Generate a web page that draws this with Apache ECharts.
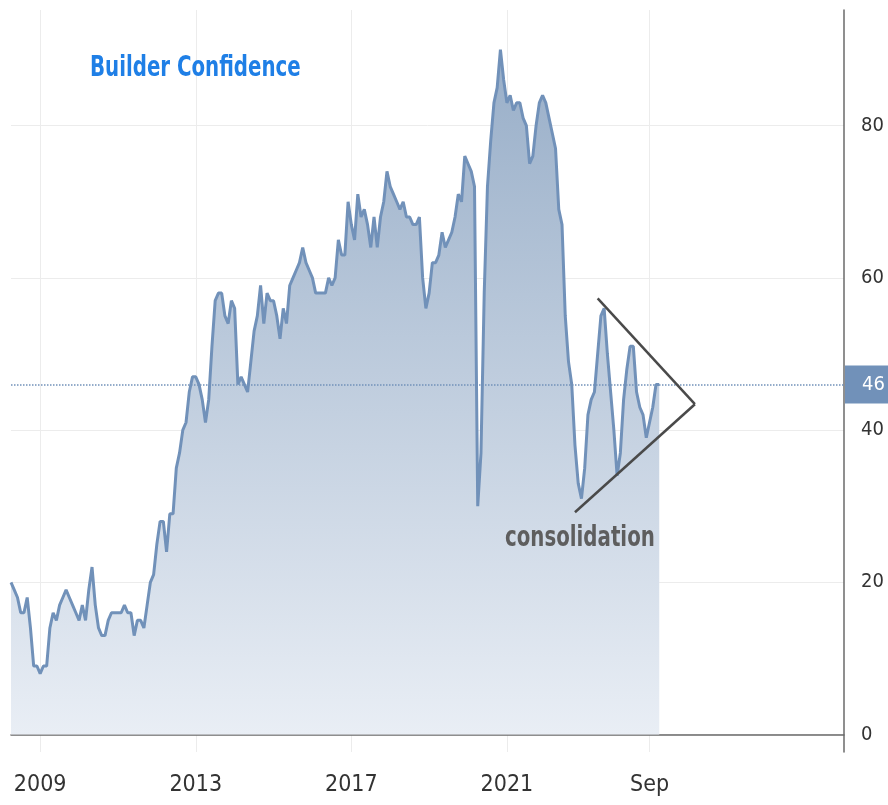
<!DOCTYPE html>
<html>
<head>
<meta charset="utf-8">
<title>Builder Confidence</title>
<script src="https://cdn.jsdelivr.net/npm/echarts@6/dist/echarts.min.js"></script>
<style>
  html, body { margin: 0; padding: 0; background: #fff; }
  #chart-container { width: 888px; height: 805px; }
</style>
</head>
<body>
<div id="chart-container"></div>
<script>
// monthly index, Apr 2008 .. Dec 2024
var confidence = [
  20, 19, 18, 16, 16, 18, 14, 9, 9,
  8, 9, 9, 14, 16, 15, 17, 18, 19, 18, 17, 16,
  15, 17, 15, 19, 22, 17, 14, 13, 13, 15, 16, 16,
  16, 16, 17, 16, 16, 13, 15, 15, 14, 17, 20, 21,
  25, 28, 28, 24, 29, 29, 35, 37, 40, 41, 45, 47,
  47, 46, 44, 41, 44, 51, 57, 58, 58, 55, 54, 57,
  56, 46, 47, 46, 45, 49, 53, 55, 59, 54, 58, 57,
  57, 55, 52, 56, 54, 59, 60, 61, 62, 64, 62, 61,
  60, 58, 58, 58, 58, 60, 59, 60, 65, 63, 63, 70,
  67, 65, 71, 68, 69, 67, 64, 68, 64, 68, 70, 74,
  72, 71, 70, 69, 70, 68, 68, 67, 67, 68, 60, 56,
  58, 62, 62, 63, 66, 64, 65, 66, 68, 71, 70, 76,
  75, 74, 72, 30, 37, 58, 72, 78, 83, 85, 90, 86,
  83, 84, 82, 83, 83, 81, 80, 75, 76, 80, 83, 84,
  83, 81, 79, 77, 69, 67, 55, 49, 46, 38, 33, 31,
  35, 42, 44, 45, 50, 55, 56, 50, 45, 40, 34, 37,
  44, 48, 51, 51, 45, 43, 42, 39, 41, 43, 46, 46
];
var lastValue = 46;

// month categories, the axis runs on past the data
var startYear = 2008, startMonth = 4, monthCount = 258;
var months = [];
for (var i = 0; i < monthCount; i++) {
  var m = startMonth - 1 + i;
  var y = startYear + Math.floor(m / 12);
  var mm = (m % 12) + 1;
  months.push(y + '-' + (mm < 10 ? '0' + mm : mm));
}

var tickLabels = ['2009-01', '2013-01', '2017-01', '2021-01', '2024-09'];
var yTicks = [0, 20, 40, 60, 80];

// triangle drawn around the consolidation
var triTop = ['2023-05', 57.3];
var triApex = ['2025-11', 43.4];
var triBottom = ['2022-10', 29.2];

var narrow = '"DejaVu Sans Condensed", "Liberation Sans Narrow", sans-serif';

var dom = document.getElementById('chart-container');
var myChart = echarts.init(dom, null, { renderer: 'canvas' });

function pt(p) {
  return { coord: [months.indexOf(p[0]), p[1]] };
}

var triStyle = { type: 'solid', color: '#4a4a4a', width: 2.5 };

var option = {
  animation: false,
  backgroundColor: '#fff',
  grid: { left: 11, right: 44, top: 10, bottom: 53 },
  xAxis: {
    type: 'category',
    data: months,
    boundaryGap: false,
    axisLine: { show: true, lineStyle: { color: '#6a6a6a', width: 1.5 } },
    axisTick: { show: false },
    axisLabel: {
      interval: function (idx, val) { return tickLabels.indexOf(val) >= 0; },
      formatter: function (val) { return val === '2024-09' ? 'Sep' : val.slice(0, 4); },
      color: '#333',
      fontFamily: narrow,
      fontSize: 23,
      margin: 22
    },
    splitLine: {
      show: true,
      interval: function (idx, val) { return tickLabels.indexOf(val) >= 0; },
      lineStyle: { color: '#ececec', width: 1 }
    }
  },
  yAxis: {
    type: 'value',
    position: 'right',
    min: -2.3,
    max: 95.2,
    axisLine: { show: true, lineStyle: { color: '#6a6a6a', width: 1.5 } },
    axisTick: { show: false, customValues: yTicks },
    axisLabel: {
      customValues: yTicks,
      color: '#333',
      fontFamily: narrow,
      fontSize: 20,
      margin: 17
    },
    splitLine: { show: true, lineStyle: { color: '#ececec', width: 1 } }
  },
  series: [{
    type: 'line',
    data: confidence,
    showSymbol: false,
    symbol: 'none',
    lineStyle: { color: '#7191b9', width: 3 },
    areaStyle: {
      opacity: 1,
      color: new echarts.graphic.LinearGradient(0, 0, 0, 1, [
        { offset: 0, color: '#98aec8' },
        { offset: 1, color: '#e9eef5' }
      ])
    },
    markLine: {
      silent: true,
      symbol: ['none', 'none'],
      data: [
        {
          yAxis: lastValue,
          lineStyle: { type: 'dotted', color: '#7191b9', width: 1.5 },
          label: {
            show: true,
            position: 'end',
            distance: 1,
            formatter: String(lastValue),
            backgroundColor: '#7191b9',
            color: '#fff',
            fontFamily: narrow,
            fontSize: 20,
            lineHeight: 22,
            padding: [8, 8, 8, 17]
          }
        },
        [Object.assign(pt(triTop), { lineStyle: triStyle, label: { show: false } }), pt(triApex)],
        [Object.assign(pt(triBottom), { lineStyle: triStyle, label: { show: false } }), pt(triApex)]
      ]
    }
  }],
  graphic: [
    {
      type: 'text',
      left: 90,
      top: 54,
      z: 100,
      scaleY: 1.3,
      style: {
        text: 'Builder Confidence',
        fill: '#1f7fe6',
        font: 'bold 22px ' + narrow
      }
    },
    {
      type: 'text',
      left: 505,
      top: 524,
      z: 100,
      scaleY: 1.3,
      style: {
        text: 'consolidation',
        fill: '#5e5e5e',
        font: 'bold 22px ' + narrow
      }
    }
  ]
};

myChart.setOption(option);
window.addEventListener('resize', myChart.resize);
</script>
</body>
</html>
